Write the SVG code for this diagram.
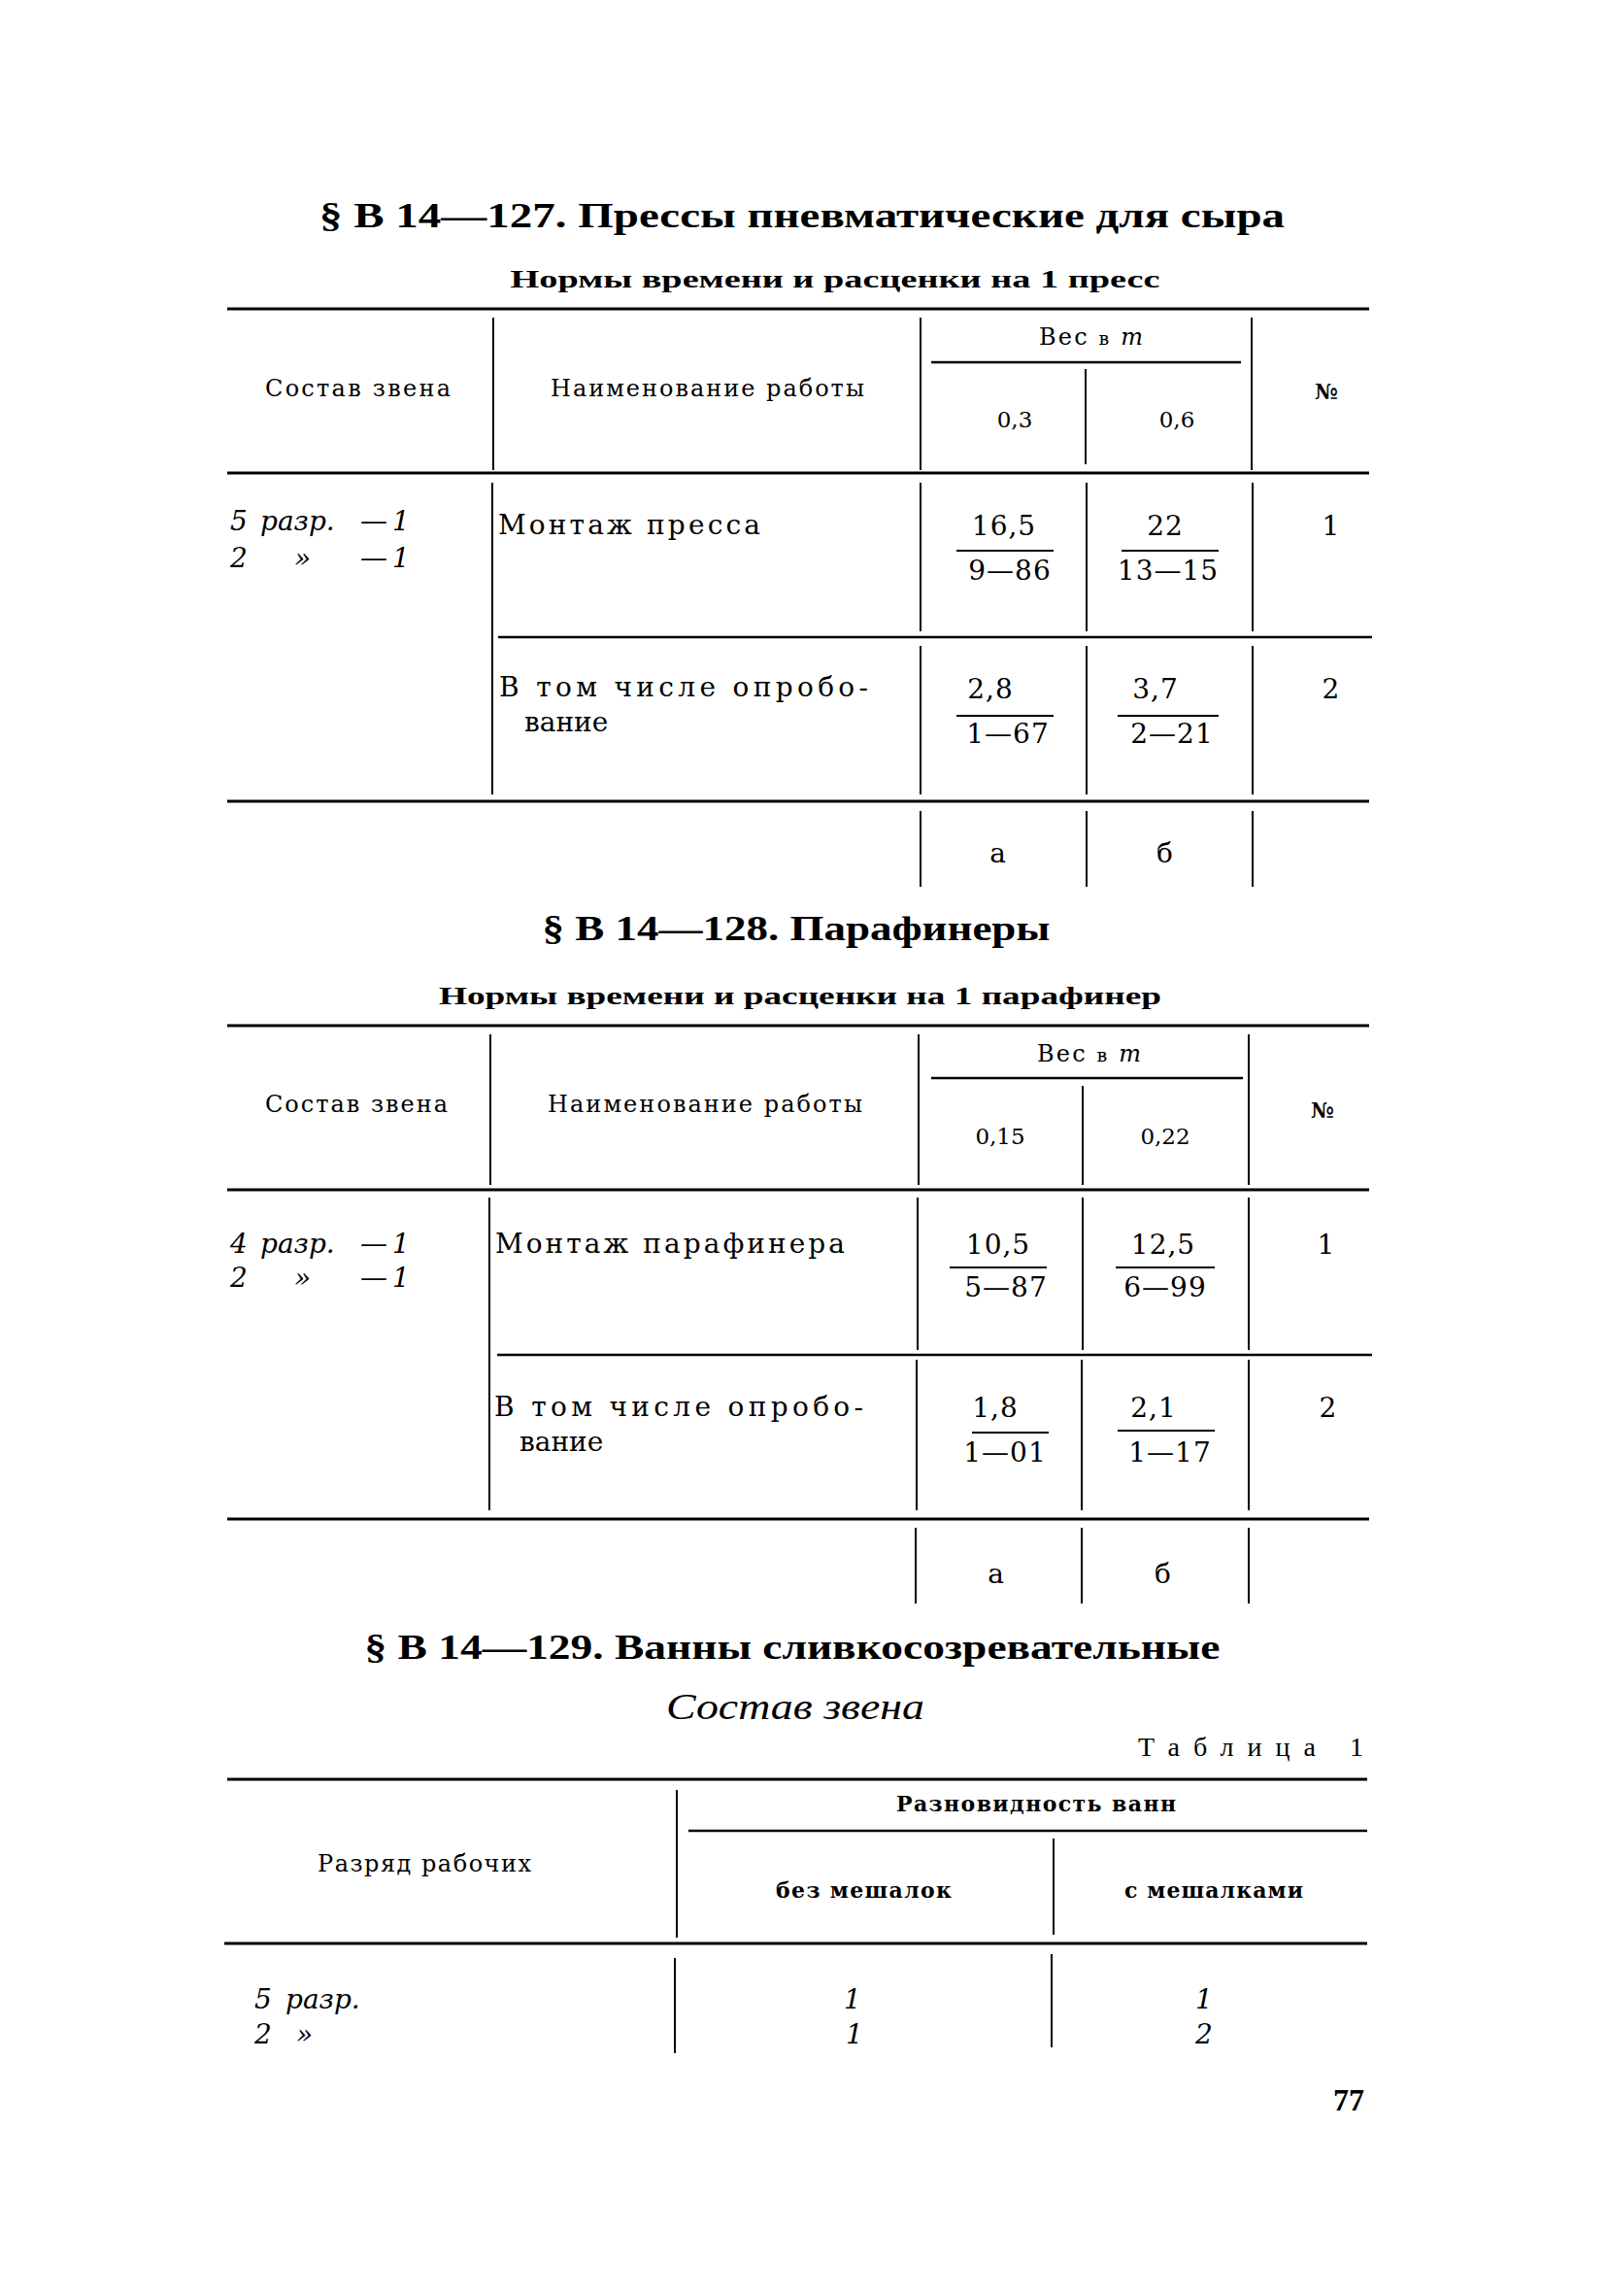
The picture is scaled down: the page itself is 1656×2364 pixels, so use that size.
<svg xmlns="http://www.w3.org/2000/svg" width="1656" height="2364" viewBox="0 0 1656 2364">
<style>
text{font-family:"Liberation Serif","DejaVu Serif",serif;fill:#000}
.t{font-size:36px;font-weight:bold}
.st{font-size:25px;font-weight:bold}
.h{font-family:"DejaVu Serif",serif;font-size:24px}
.hb{font-family:"DejaVu Serif",serif;font-size:22px;font-weight:bold}
.hn{font-family:"DejaVu Serif",serif;font-size:23px;text-anchor:middle}
.c{font-family:"DejaVu Serif",serif;font-size:28px}
.n{font-family:"DejaVu Serif",serif;font-size:28px;text-anchor:middle;letter-spacing:1px}
.i{font-family:"DejaVu Serif",serif;font-size:28px;font-style:italic}
.m{text-anchor:middle}
.r{stroke:#000;stroke-width:3;fill:none}
.s{stroke:#000;stroke-width:2.5;fill:none}
.v{stroke:#000;stroke-width:2;fill:none}
.b{stroke:#000;stroke-width:2;fill:none}
</style>
<rect width="1656" height="2364" fill="#fff"/>

<!-- ===== Section 127 ===== -->
<g id="sec127">
<text class="t m" x="826" y="234" textLength="994" lengthAdjust="spacingAndGlyphs">§ В 14—127. Прессы пневматические для сыра</text>
<text class="st m" x="860" y="296" textLength="669" lengthAdjust="spacingAndGlyphs">Нормы времени и расценки на 1 пресс</text>
</g>
<g id="table127">
<g id="t1-lines">
<line class="r" x1="234" y1="318" x2="1410" y2="318"/>
<line class="s" x1="959" y1="373" x2="1278" y2="373"/>
<line class="r" x1="234" y1="487" x2="1410" y2="487"/>
<line class="s" x1="513" y1="656" x2="1413" y2="656"/>
<line class="r" x1="234" y1="825" x2="1410" y2="825"/>
<line class="v" x1="508" y1="327" x2="508" y2="484"/>
<line class="v" x1="948" y1="327" x2="948" y2="484"/>
<line class="v" x1="1118" y1="380" x2="1118" y2="478"/>
<line class="v" x1="1289" y1="327" x2="1289" y2="484"/>
<line class="v" x1="507" y1="497" x2="507" y2="818"/>
<line class="v" x1="948" y1="497" x2="948" y2="650"/>
<line class="v" x1="1119" y1="497" x2="1119" y2="650"/>
<line class="v" x1="1290" y1="497" x2="1290" y2="650"/>
<line class="v" x1="948" y1="665" x2="948" y2="818"/>
<line class="v" x1="1119" y1="665" x2="1119" y2="818"/>
<line class="v" x1="1290" y1="665" x2="1290" y2="818"/>
<line class="v" x1="948" y1="835" x2="948" y2="913"/>
<line class="v" x1="1119" y1="835" x2="1119" y2="913"/>
<line class="v" x1="1290" y1="835" x2="1290" y2="913"/>
<line class="b" x1="985" y1="567" x2="1085" y2="567"/>
<line class="b" x1="1155" y1="567" x2="1255" y2="567"/>
<line class="b" x1="985" y1="737" x2="1085" y2="737"/>
<line class="b" x1="1151" y1="737" x2="1255" y2="737"/>
</g>
<g id="t1-head">
<text class="h" x="1070" y="355" textLength="107" lengthAdjust="spacing">Вес <tspan font-size="19">в</tspan> <tspan font-style="italic">т</tspan></text>
<text class="h" x="273" y="408" textLength="191" lengthAdjust="spacing">Состав звена</text>
<text class="h" x="567" y="408" textLength="323" lengthAdjust="spacing">Наименование работы</text>
<text class="hn" x="1045" y="440">0,3</text>
<text class="hn" x="1212" y="440">0,6</text>
<text class="hb m" x="1366" y="411">№</text>
</g>
<g id="t1-row1">
<text class="i" x="237" y="546">5 <tspan x="268">разр.</tspan><tspan x="371">—</tspan><tspan x="404">1</tspan></text>
<text class="i" x="237" y="584">2<tspan x="303">»</tspan><tspan x="371">—</tspan><tspan x="404">1</tspan></text>
<text class="c" x="513" y="550" textLength="270" lengthAdjust="spacing">Монтаж  пресса</text>
<text class="n" x="1034" y="551">16,5</text>
<text class="n" x="1040" y="597">9—86</text>
<text class="n" x="1200" y="551">22</text>
<text class="n" x="1203" y="597">13—15</text>
<text class="n" x="1371" y="551">1</text>
</g>
<g id="t1-row2">
<text class="c" x="514" y="717" textLength="380" lengthAdjust="spacing">В том числе опробо-</text>
<text class="c" x="540" y="753">вание</text>
<text class="n" x="1020" y="719">2,8</text>
<text class="n" x="1038" y="765">1—67</text>
<text class="n" x="1190" y="719">3,7</text>
<text class="n" x="1207" y="765">2—21</text>
<text class="n" x="1371" y="719">2</text>
</g>
<g id="t1-foot">
<text class="n" x="1028" y="888">а</text>
<text class="n" x="1200" y="888">б</text>
</g>
</g>

<!-- ===== Section 128 ===== -->
<g id="sec128">
<text class="t m" x="820" y="968" textLength="523" lengthAdjust="spacingAndGlyphs">§ В 14—128. Парафинеры</text>
<text class="st m" x="824" y="1034" textLength="744" lengthAdjust="spacingAndGlyphs">Нормы времени и расценки на 1 парафинер</text>
</g>
<g id="table128">
<g id="t2-lines">
<line class="r" x1="234" y1="1056" x2="1410" y2="1056"/>
<line class="s" x1="959" y1="1110" x2="1280" y2="1110"/>
<line class="r" x1="234" y1="1225" x2="1410" y2="1225"/>
<line class="s" x1="512" y1="1395" x2="1413" y2="1395"/>
<line class="r" x1="234" y1="1564" x2="1410" y2="1564"/>
<line class="v" x1="505" y1="1065" x2="505" y2="1220"/>
<line class="v" x1="946" y1="1065" x2="946" y2="1220"/>
<line class="v" x1="1115" y1="1118" x2="1115" y2="1220"/>
<line class="v" x1="1286" y1="1065" x2="1286" y2="1220"/>
<line class="v" x1="504" y1="1233" x2="504" y2="1555"/>
<line class="v" x1="945" y1="1233" x2="945" y2="1390"/>
<line class="v" x1="1115" y1="1233" x2="1115" y2="1390"/>
<line class="v" x1="1286" y1="1233" x2="1286" y2="1390"/>
<line class="v" x1="944" y1="1400" x2="944" y2="1555"/>
<line class="v" x1="1114" y1="1400" x2="1114" y2="1555"/>
<line class="v" x1="1286" y1="1400" x2="1286" y2="1555"/>
<line class="v" x1="943" y1="1573" x2="943" y2="1651"/>
<line class="v" x1="1114" y1="1573" x2="1114" y2="1651"/>
<line class="v" x1="1286" y1="1573" x2="1286" y2="1651"/>
<line class="b" x1="978" y1="1305" x2="1078" y2="1305"/>
<line class="b" x1="1149" y1="1305" x2="1251" y2="1305"/>
<line class="b" x1="1001" y1="1475" x2="1080" y2="1475"/>
<line class="b" x1="1151" y1="1473" x2="1251" y2="1473"/>
</g>
<g id="t2-head">
<text class="h" x="1068" y="1093" textLength="107" lengthAdjust="spacing">Вес <tspan font-size="19">в</tspan> <tspan font-style="italic">т</tspan></text>
<text class="h" x="273" y="1145" textLength="188" lengthAdjust="spacing">Состав звена</text>
<text class="h" x="564" y="1145" textLength="324" lengthAdjust="spacing">Наименование работы</text>
<text class="hn" x="1030" y="1178">0,15</text>
<text class="hn" x="1200" y="1178">0,22</text>
<text class="hb m" x="1362" y="1151">№</text>
</g>
<g id="t2-row1">
<text class="i" x="237" y="1290">4 <tspan x="268">разр.</tspan><tspan x="371">—</tspan><tspan x="404">1</tspan></text>
<text class="i" x="237" y="1325">2<tspan x="303">»</tspan><tspan x="371">—</tspan><tspan x="404">1</tspan></text>
<text class="c" x="510" y="1290" textLength="360" lengthAdjust="spacing">Монтаж  парафинера</text>
<text class="n" x="1028" y="1291">10,5</text>
<text class="n" x="1036" y="1335">5—87</text>
<text class="n" x="1198" y="1291">12,5</text>
<text class="n" x="1200" y="1335">6—99</text>
<text class="n" x="1366" y="1291">1</text>
</g>
<g id="t2-row2">
<text class="c" x="509" y="1458" textLength="380" lengthAdjust="spacing">В том числе опробо-</text>
<text class="c" x="535" y="1494">вание</text>
<text class="n" x="1025" y="1459">1,8</text>
<text class="n" x="1035" y="1505">1—01</text>
<text class="n" x="1188" y="1459">2,1</text>
<text class="n" x="1205" y="1505">1—17</text>
<text class="n" x="1368" y="1459">2</text>
</g>
<g id="t2-foot">
<text class="n" x="1026" y="1630">а</text>
<text class="n" x="1198" y="1630">б</text>
</g>
</g>

<!-- ===== Section 129 ===== -->
<g id="sec129">
<text class="t m" x="816" y="1708" textLength="881" lengthAdjust="spacingAndGlyphs">§ В 14—129. Ванны сливкосозревательные</text>
<text class="m" x="819" y="1770" font-size="38" font-style="italic" textLength="266" lengthAdjust="spacingAndGlyphs">Состав звена</text>
<text x="1172" y="1808" font-family="DejaVu Serif, serif" font-size="28" textLength="232" lengthAdjust="spacing">Таблица 1</text>
</g>
<g id="table129">
<g id="t3-lines">
<line class="r" x1="234" y1="1832" x2="1408" y2="1832"/>
<line class="s" x1="709" y1="1885" x2="1408" y2="1885"/>
<line class="r" x1="231" y1="2001" x2="1408" y2="2001"/>
<line class="v" x1="697" y1="1843" x2="697" y2="1995"/>
<line class="v" x1="1085" y1="1893" x2="1085" y2="1992"/>
<line class="v" x1="695" y1="2016" x2="695" y2="2114"/>
<line class="v" x1="1083" y1="2012" x2="1083" y2="2108"/>
</g>
<g id="t3-head">
<text class="hb" x="923" y="1865" textLength="288" lengthAdjust="spacing">Разновидность ванн</text>
<text class="h" x="327" y="1927" textLength="220" lengthAdjust="spacing">Разряд рабочих</text>
<text class="hb" x="799" y="1954" textLength="181" lengthAdjust="spacing">без мешалок</text>
<text class="hb" x="1158" y="1954" textLength="184" lengthAdjust="spacing">с мешалками</text>
</g>
<g id="t3-body">
<text class="i" x="262" y="2068">5 <tspan x="294">разр.</tspan></text>
<text class="i" x="262" y="2104">2<tspan x="305">»</tspan></text>
<text class="i m" x="878" y="2068">1</text>
<text class="i m" x="880" y="2104">1</text>
<text class="i m" x="1240" y="2068">1</text>
<text class="i m" x="1240" y="2104">2</text>
</g>
</g>
<text id="page" x="1373" y="2173" font-size="32" font-weight="bold">77</text>
</svg>
